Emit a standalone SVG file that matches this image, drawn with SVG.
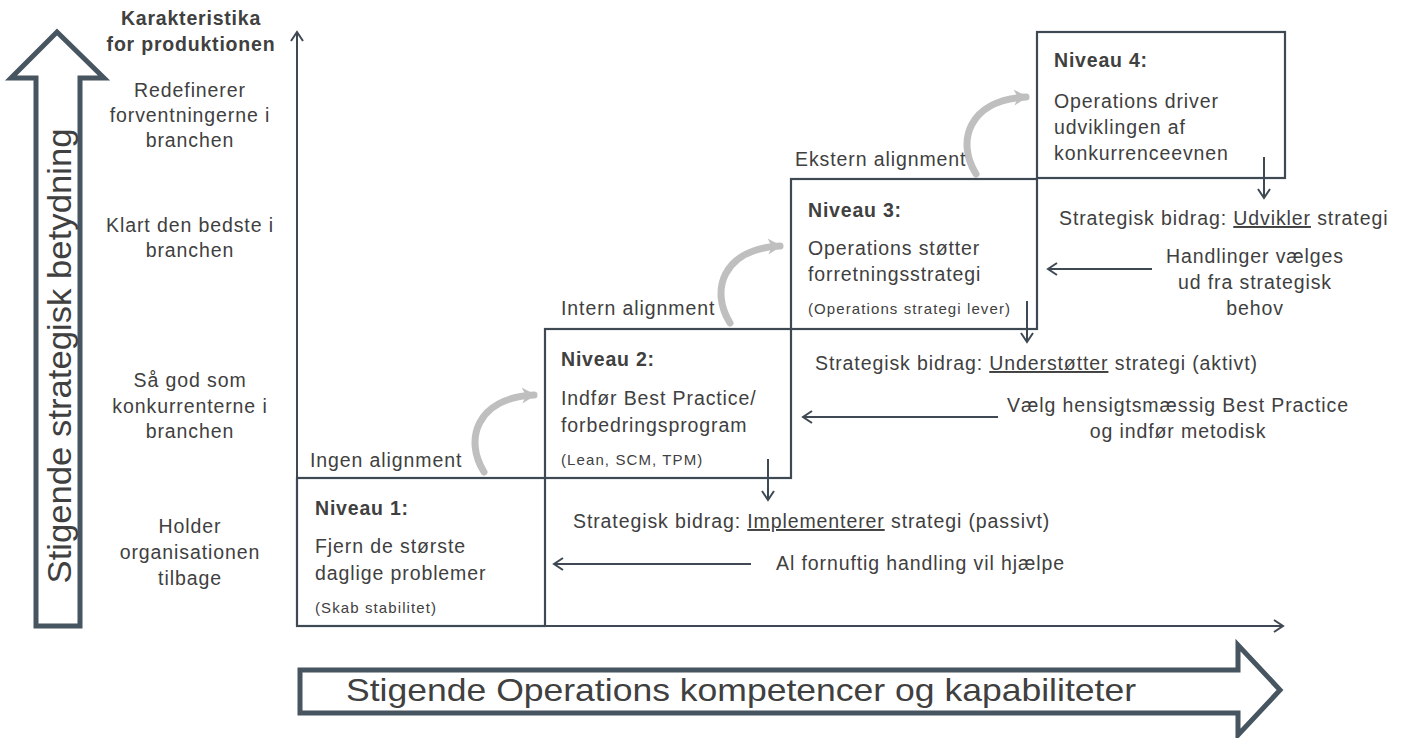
<svg xmlns="http://www.w3.org/2000/svg" width="1405" height="738" viewBox="0 0 1405 738">
<style>
text{font-family:"Liberation Sans",Arial,sans-serif;fill:#404040;}
.t{font-size:19.5px;letter-spacing:0.9px;}
.b{font-size:19.5px;font-weight:bold;letter-spacing:0.8px;}
.s{font-size:15px;letter-spacing:1.1px;}
.c{text-anchor:middle;}
.box{fill:none;stroke:#3e4953;stroke-width:2.2;}
.ln{fill:none;stroke:#3e4953;stroke-width:2;}
.big{fill:#fff;stroke:#46555f;stroke-width:5;stroke-linejoin:miter;}
.cur{fill:none;stroke:#bfbfbf;stroke-width:7;stroke-linecap:round;}
</style>
<defs>
<marker id="v" markerUnits="userSpaceOnUse" markerWidth="16" markerHeight="16" refX="12" refY="8" orient="auto" viewBox="0 0 16 16">
<path d="M3 2 L12 8 L3 14" fill="none" stroke="#3e4953" stroke-width="2"/>
</marker>
<marker id="g" markerUnits="userSpaceOnUse" markerWidth="20" markerHeight="20" refX="12" refY="10" orient="auto" viewBox="0 0 20 20">
<path d="M0 2 L14 10 L0 18 L4 10 Z" fill="#bfbfbf"/>
</marker>
</defs>

<g id="big-vertical-arrow">
<path class="big" d="M57 32 L104 78 L80 78 L80 626 L36 626 L36 78 L11 78 Z"/>
<text transform="translate(71 356) rotate(-90)" class="c" style="font-size:34px" textLength="455" lengthAdjust="spacingAndGlyphs">Stigende strategisk betydning</text>
</g>

<g id="big-horizontal-arrow">
<path class="big" d="M300 670 L1238 670 L1238 645 L1280 690 L1238 735 L1238 713 L300 713 Z"/>
<text x="741" y="701" class="c" style="font-size:32px" textLength="790" lengthAdjust="spacingAndGlyphs">Stigende Operations kompetencer og kapabiliteter</text>
</g>

<g id="axis-labels">
<text x="191" y="25" class="b c">Karakteristika</text>
<text x="191" y="51" class="b c">for produktionen</text>
<text x="190" y="97" class="t c">Redefinerer</text>
<text x="190" y="122" class="t c">forventningerne i</text>
<text x="190" y="147" class="t c">branchen</text>
<text x="190" y="232" class="t c">Klart den bedste i</text>
<text x="190" y="257" class="t c">branchen</text>
<text x="190" y="387" class="t c">Så god som</text>
<text x="190" y="413" class="t c">konkurrenterne i</text>
<text x="190" y="438" class="t c">branchen</text>
<text x="190" y="533" class="t c">Holder</text>
<text x="190" y="559" class="t c">organisationen</text>
<text x="190" y="585" class="t c">tilbage</text>
</g>

<g id="connectors">
<line class="ln" x1="297" y1="626" x2="297" y2="32" marker-end="url(#v)"/>
<line class="ln" x1="297" y1="626" x2="1283" y2="626" marker-end="url(#v)"/>
<path class="cur" d="M484 472 C464 440 476 398 534 395" marker-end="url(#g)"/>
<path class="cur" d="M730 323 C710 291 722 249 780 246" marker-end="url(#g)"/>
<path class="cur" d="M976 174 C956 142 968 100 1026 97" marker-end="url(#g)"/>
<line class="ln" x1="768" y1="459" x2="768" y2="500" marker-end="url(#v)"/>
<line class="ln" x1="1027" y1="301" x2="1027" y2="342" marker-end="url(#v)"/>
<line class="ln" x1="1264" y1="157" x2="1264" y2="198" marker-end="url(#v)"/>
<line class="ln" x1="751" y1="564" x2="554" y2="564" marker-end="url(#v)"/>
<line class="ln" x1="998" y1="417" x2="803" y2="417" marker-end="url(#v)"/>
<line class="ln" x1="1152" y1="269" x2="1048" y2="269" marker-end="url(#v)"/>
</g>

<g id="niveau1">
<rect class="box" x="297" y="478" width="248" height="148"/>
<text x="315" y="515" class="b">Niveau 1:</text>
<text x="315" y="553" class="t">Fjern de største</text>
<text x="315" y="580" class="t">daglige problemer</text>
<text x="315" y="613" class="s">(Skab stabilitet)</text>
</g>

<g id="niveau2">
<rect class="box" x="545" y="329" width="246" height="149"/>
<text x="561" y="366" class="b">Niveau 2:</text>
<text x="561" y="405" class="t">Indfør Best Practice/</text>
<text x="561" y="432" class="t">forbedringsprogram</text>
<text x="561" y="465" class="s">(Lean, SCM, TPM)</text>
</g>

<g id="niveau3">
<rect class="box" x="791" y="179" width="246" height="150"/>
<text x="808" y="217" class="b">Niveau 3:</text>
<text x="808" y="255" class="t">Operations støtter</text>
<text x="808" y="281" class="t">forretningsstrategi</text>
<text x="808" y="314" class="s">(Operations strategi lever)</text>
</g>

<g id="niveau4">
<rect class="box" x="1037" y="32" width="248" height="146"/>
<text x="1054" y="67" class="b">Niveau 4:</text>
<text x="1054" y="108" class="t">Operations driver</text>
<text x="1054" y="134" class="t">udviklingen af</text>
<text x="1054" y="160" class="t">konkurrenceevnen</text>
</g>

<g id="alignment-labels">
<text x="310" y="467" class="t">Ingen alignment</text>
<text x="561" y="315" class="t">Intern alignment</text>
<text x="795" y="166" class="t">Ekstern alignment</text>
</g>

<g id="contribution-labels">
<text x="573" y="528" class="t">Strategisk bidrag: <tspan text-decoration="underline">Implementerer</tspan> strategi (passivt)</text>
<text x="776" y="570" class="t">Al fornuftig handling vil hjælpe</text>
<text x="815" y="370" class="t">Strategisk bidrag: <tspan text-decoration="underline">Understøtter</tspan> strategi (aktivt)</text>
<text x="1178" y="412" class="t c">Vælg hensigtsmæssig Best Practice</text>
<text x="1178" y="438" class="t c">og indfør metodisk</text>
<text x="1059" y="225" class="t">Strategisk bidrag: <tspan text-decoration="underline">Udvikler</tspan> strategi</text>
<text x="1255" y="263" class="t c">Handlinger vælges</text>
<text x="1255" y="289" class="t c">ud fra strategisk</text>
<text x="1255" y="315" class="t c">behov</text>
</g>
</svg>
